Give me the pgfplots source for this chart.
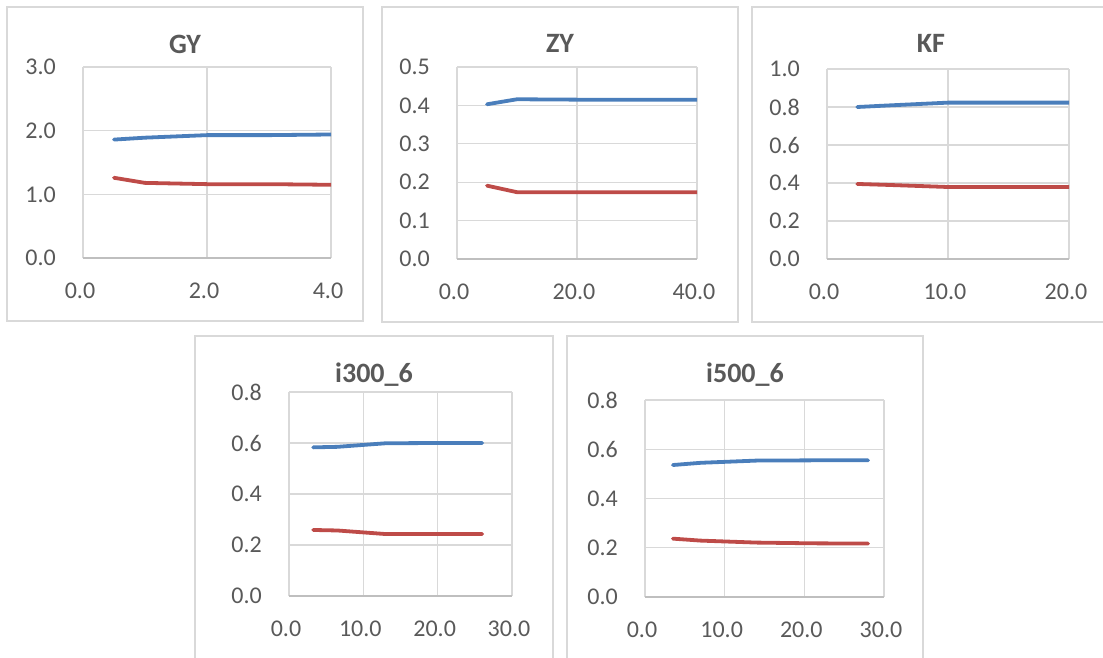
\documentclass[border=0pt]{standalone}
\usepackage{fontspec}
\setmainfont{Carlito}
\usepackage{pgfplots}
\pgfplotsset{compat=1.18}
\definecolor{sblue}{HTML}{4A7EBB}
\definecolor{sred}{HTML}{BE4B48}
\definecolor{gridc}{HTML}{D9D9D9}
\definecolor{axisc}{HTML}{BFBFBF}
\definecolor{txt}{HTML}{595959}
\definecolor{frame}{HTML}{D9D9D9}

\pgfplotsset{
  panel/.style={
    scale only axis, anchor=south west,
    xmin=0, ymin=0,
    axis line style={draw=none}, tick style={draw=none},
    grid=major, major grid style={draw=gridc, line width=1.2pt},
    extra y ticks={0}, extra y tick labels={},
    extra y tick style={ymajorgrids=true, major grid style={draw=axisc, line width=1.6pt}},
    ticklabel style={font=\fontsize{24}{28}\selectfont, text=txt},
    xticklabel style={inner sep=0pt, anchor=north, yshift=-25pt, xshift=-3pt},
    yticklabel style={inner sep=0pt, anchor=east, xshift=-27pt},
    /pgf/number format/.cd, fixed, fixed zerofill, precision=1, assume math mode=true,
  },
  bl/.style={color=sblue, line width=3.8pt, line cap=round, no marks},
  rd/.style={color=sred, line width=3.8pt, line cap=round, no marks},
}

\begin{document}
\begin{tikzpicture}
\useasboundingbox (0pt,0pt) rectangle (1103pt,-657pt);
% chart frames
\draw[frame, line width=1.5pt] (7pt,-7pt) rectangle (363pt,-321pt);
\draw[frame, line width=1.5pt] (382pt,-7pt) rectangle (738pt,-322pt);
\draw[frame, line width=1.5pt] (752pt,-7pt) rectangle (1110pt,-322pt);
\draw[frame, line width=1.5pt] (195pt,-336pt) rectangle (553pt,-665pt);
\draw[frame, line width=1.5pt] (567pt,-336pt) rectangle (923pt,-665pt);

% titles
\begin{scope}[every node/.style={font=\fontsize{28}{33}\selectfont\bfseries, text=txt, anchor=base}]
\node at (185pt,-53pt) {GY};
\node at (560pt,-52pt) {ZY};
\node at (931pt,-52pt) {KF};
\node at (374pt,-382pt) {i300\_6};
\node at (745pt,-382pt) {i500\_6};
\end{scope}

% GY
\begin{axis}[panel, at={(83pt,-258pt)}, width=248pt, height=191pt,
  xmax=4, ymax=3, xtick={0,2,4}, ytick={0,1,2,3}]
\addplot[bl] coordinates {(0.5,1.86) (1,1.89) (2,1.93) (3,1.93) (4,1.94)};
\addplot[rd] coordinates {(0.5,1.26) (1,1.18) (2,1.16) (3,1.16) (4,1.15)};
\end{axis}

% ZY
\begin{axis}[panel, at={(457pt,-259pt)}, width=240pt, height=192pt,
  xmax=40, ymax=0.5, xtick={0,20,40}, ytick={0,0.1,0.2,0.3,0.4,0.5}]
\addplot[bl] coordinates {(5,0.403) (10,0.416) (20,0.415) (30,0.415) (40,0.415)};
\addplot[rd] coordinates {(5,0.191) (10,0.174) (20,0.174) (30,0.174) (40,0.174)};
\end{axis}

% KF
\begin{axis}[panel, at={(827pt,-259pt)}, width=242pt, height=190pt,
  xmax=20, ymax=1, xtick={0,10,20}, ytick={0,0.2,0.4,0.6,0.8,1}]
\addplot[bl] coordinates {(2.5,0.800) (5,0.808) (10,0.823) (20,0.823)};
\addplot[rd] coordinates {(2.5,0.395) (5,0.390) (10,0.379) (20,0.379)};
\end{axis}

% i300_6
\begin{axis}[panel, at={(289pt,-596pt)}, width=223pt, height=204pt,
  xmax=30, ymax=0.8, xtick={0,10,20,30}, ytick={0,0.2,0.4,0.6,0.8}]
\addplot[bl] coordinates {(3.25,0.583) (6.5,0.585) (13,0.599) (19.5,0.600) (26,0.600)};
\addplot[rd] coordinates {(3.25,0.259) (6.5,0.257) (13,0.243) (19.5,0.243) (26,0.243)};
\end{axis}

% i500_6
\begin{axis}[panel, at={(645pt,-597pt)}, width=239pt, height=197pt,
  xmax=30, ymax=0.8, xtick={0,10,20,30}, ytick={0,0.2,0.4,0.6,0.8}]
\addplot[bl] coordinates {(3.5,0.536) (7,0.545) (14,0.554) (21,0.555) (28,0.555)};
\addplot[rd] coordinates {(3.5,0.237) (7,0.229) (14,0.221) (21,0.218) (28,0.217)};
\end{axis}
\end{tikzpicture}
\end{document}
